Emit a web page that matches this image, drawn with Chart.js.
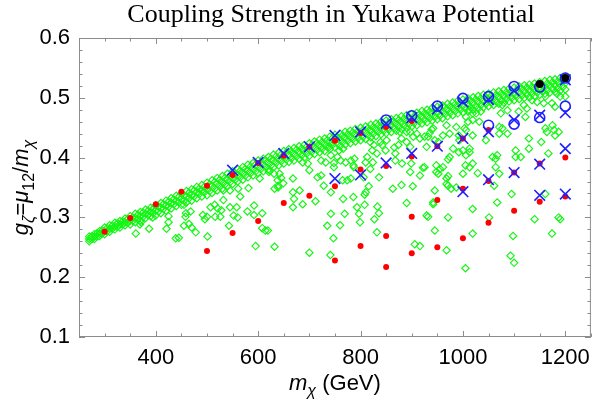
<!DOCTYPE html>
<html>
<head>
<meta charset="utf-8">
<script src="https://cdn.jsdelivr.net/npm/chart.js@4.4.1/dist/chart.umd.min.js"></script>
<style>
  html, body { margin: 0; padding: 0; background: #fff; }
  #wrap { width: 600px; height: 402px; }
</style>
</head>
<body>
<div id="wrap"><canvas id="chart" width="600" height="402"></canvas></div>
<script>
// tick labels
const xTickValues = [400, 600, 800, 1000, 1200];
const yTickValues = [0.1, 0.2, 0.3, 0.4, 0.5, 0.6];

// dense green band along the upper edge: rows
const bandMass = [270,280,290,300,310,320,330,340,350,360,370,380,390,400,410,420,430,440,450,460,470,480,490,500,
  510,520,530,540,550,560,570,580,590,600,610,620,630,640,650,660,670,680,690,700,710,720,730,740,750,760,770,780,790,800,
  810,820,830,840,850,860,870,880,890,900,910,920,930,940,950,960,970,980,990,1000,1010,1020,1030,1040,1050,1060,1070,1080,1090,1100,
  1110,1120,1130,1140,1150,1160,1170,1180,1190,1200];
const bandTop = [.268,.272,.277,.283,.287,.291,.294,.298,.302,.306,.309,.313,.316,.320,.324,.328,.332,.336,.340,
  .344,.347,.351,.354,.358,.362,.366,.369,.373,.377,.381,.384,.388,.391,.395,.398,.401,.405,.408,.411,
  .414,.416,.419,.421,.424,.427,.430,.432,.435,.438,.440,.443,.445,.448,.450,.452,.455,.457,.460,.462,
  .464,.466,.469,.471,.473,.475,.478,.480,.483,.485,.487,.490,.492,.495,.497,.499,.501,.503,.505,.507,
  .509,.511,.513,.515,.517,.519,.521,.522,.524,.526,.528,.530,.531,.533,.535];
const bandMid = [.264,.268,.273,.277,.281,.285,.288,.292,.295,.299,.302,.306,.309,.312,.316,.320,.324,.328,.331,
  .335,.338,.342,.345,.348,.352,.356,.359,.363,.367,.371,.374,.378,.381,.385,.388,.391,.395,.398,.401,
  .404,.406,.409,.411,.414,.417,.420,.422,.425,.428,.430,.433,.435,.438,.440,.442,.445,.447,.450,.452,
  .454,.456,.459,.461,.463,.465,.468,.470,.473,.475,.477,.480,.482,.485,.487,.489,.491,.493,.495,.497,
  .499,.501,.503,.505,.507,.509,.511,.512,.514,.516,.518,.520,.521,.523,.525];
const bandLow = [.260,.264,.269,.272,.276,.280,.283,.287,.288,.292,.295,.299,.302,.303,.307,.311,.315,.319,.321,
  .325,.328,.332,.335,.337,.341,.345,.348,.352,.356,.360,.363,.367,.370,.374,.377,.380,.384,.387,.390,
  .393,.395,.398,.400,.403,.406,.409,.411,.414,.417,.419,.422,.424,.427,.429,.431,.434,.436,.439,.441,
  .443,.445,.448,.450,.452,.454,.457,.459,.462,.464,.466,.469,.471,.474,.476,.478,.480,.482,.484,.486,
  .488,.490,.492,.494,.496,.498,.500,.501,.503,.505,.507,.509,.510,.512,.514];
const bandMassHalf = [275,285,295,305,315,325,335,345,355,365,375,385,395,405,415,425,435,445,455,465,475,485,495,
  505,515,525,535,545,555,565,575,585,595,605,615,625,635,645,655,665,675,685,695,705,715,725,735,745,755,765,775,785,795,
  805,815,825,835,845,855,865,875,885,895,905,915,925,935,945,955,965,975,985,995,1005,1015,1025,1035,1045,1055,1065,1075,
  1085,1095,1105,1115,1125,1135,1145,1155,1165,1175,1185,1195];
const bandHalfUp = [.268,.273,.278,.282,.286,.290,.293,.297,.300,.304,.308,.311,.314,.318,.322,.326,.330,.334,.337,.341,.345,.348,.351,
  .355,.359,.363,.366,.370,.374,.378,.381,.385,.388,.392,.395,.398,.402,.405,.408,.410,.413,.415,.418,.421,.424,.426,.429,.432,.434,.437,.439,.442,.444,
  .446,.449,.451,.454,.456,.458,.460,.463,.465,.467,.469,.472,.474,.477,.479,.481,.484,.486,.489,.491,.493,.495,.497,.499,.501,.503,.505,.507,
  .509,.511,.513,.515,.517,.518,.520,.522,.524,.526,.527,.529];
const bandHalfLow = [.264,.268,.273,.277,.281,.284,.288,.291,.294,.297,.301,.304,.307,.310,.314,.318,.322,.325,.328,.332,.335,.339,.342,
  .344,.348,.352,.355,.359,.363,.367,.370,.374,.377,.381,.384,.387,.391,.394,.397,.399,.402,.404,.407,.410,.413,.415,.418,.421,.423,.426,.428,.431,.433,
  .435,.438,.440,.443,.445,.447,.449,.452,.454,.456,.458,.461,.463,.466,.468,.470,.473,.475,.478,.480,.482,.484,.486,.488,.490,.492,.494,.496,
  .498,.500,.502,.504,.506,.507,.509,.511,.513,.515,.516,.518];

// scattered green diamonds below the band
const scatterMass = [361,387,369,421,439,425,425,455,459,394,371,455,468,458,465,470,478,492,496,500,501,507,515,521,528,526,516,
  532,532,545,561,565,545,558,552,560,543,579,592,592,608,608,614,595,632,581,603,621,631,639,638,445,623,639,649,632,642,
  668,681,670,668,687,712,700,619,728,742,723,732,723,739,748,742,755,758,766,781,786,788,774,766,786,810,793,808,797,742,
  769,735,760,747,741,833,836,827,832,816,836,824,832,842,851,866,863,880,890,868,881,899,897,902,916,922,932,890,903,897,
  906,916,942,945,932,939,945,716,668,645,687,697,700,761,771,787,810,813,806,819,765,781,748,819,826,839,849,823,868,874,
  880,890,877,910,916,925,929,942,961,974,987,968,1006,1010,1019,981,1006,1000,1013,974,961,948,897,925,1000,1019,1013,1026,
  1035,1019,1032,1006,1019,1045,1071,1077,1087,1074,1109,1119,1125,1122,1135,1145,1158,1161,1174,1184,1190,1200,1180,1071,
  1077,1087,1161,1164,1180,1187,1153,1129,1013,1103,1103,1129,1167,1067,1058,1013,935,952,992,1003,993,971,948,955,952,968,
  971,977,987,945,942,929,971,1019,1019,968,1005,992,1005,1029,1064,1064,1061,1067,1051,1113,1095,1098,1093,1100,1161,1140,
  1175,1178,1174,1187,1071,971,968,799,808,1190];
const scatterG = [.273,.281,.288,.281,.265,.292,.302,.286,.307,.300,.292,.321,.310,.301,.289,.283,.275,.304,.297,.301,.268,.317,.321,.315,.312,.301,.301,
  .329,.345,.345,.348,.335,.317,.317,.303,.300,.286,.310,.320,.304,.307,.282,.278,.252,.251,.349,.365,.376,.373,.350,.362,.266,.379,.353,.357,.348,.373,
  .365,.345,.331,.317,.322,.327,.241,.278,.353,.342,.370,.392,.395,.418,.384,.404,.401,.412,.415,.395,.387,.398,.362,.331,.334,.342,.317,.321,.306,.306,
  .306,.286,.287,.265,.237,.318,.307,.297,.275,.352,.367,.392,.407,.421,.429,.417,.348,.354,.324,.395,.390,.390,.376,.352,.370,.383,.301,.426,.435,.443,
  .255,.252,.322,.278,.435,.447,.429,.367,.342,.366,.392,.390,.379,.395,.392,.384,.392,.401,.367,.381,.362,.365,.391,.426,.421,.426,.412,.412,.407,.421,
  .432,.443,.443,.440,.432,.435,.418,.449,.437,.440,.451,.454,.468,.460,.474,.415,.404,.412,.409,.401,.384,.376,.418,.384,.373,.390,.479,.474,
  .477,.463,.460,.446,.437,.429,.451,.488,.479,.474,.477,.488,.482,.468,.496,.493,.491,.502,.491,.507,.502,.502,.485,.440,
  .449,.440,.449,.443,.437,.443,.426,.432,.415,.412,.401,.415,.407,.404,.401,.384,.441,.426,.437,.449,.429,.397,.387,.381,.373,.365,
  .353,.348,.350,.345,.325,.303,.300,.314,.273,.245,.215,.409,.387,.374,.384,.398,.353,.325,.300,.401,.339,.269,.236,.224,.339,.297,
  .454,.446,.273,.300,.373,.369,.356,.292,.338,.297];

// red dots
const redMass = [300,350,400,450,500,500,550,550,600,600,650,650,700,700,750,750,750,800,800,800,850,850,850,850,
  900,900,900,900,950,950,950,1000,1000,1000,1050,1050,1050,1100,1100,1150,1150,1200,1200];
const redG = [.276,.299,.322,.343,.353,.244,.371,.274,.391,.294,.403,.324,.418,.336,.428,.352,.228,.441,.380,.252,.451,.386,.269,.217,
  .461,.402,.301,.240,.419,.329,.250,.432,.348,.265,.446,.361,.291,.375,.311,.390,.326,.400,.335];

// blue crosses
const crossMass = [550,600,650,700,750,750,800,800,850,850,900,900,950,950,1000,1000,1000,1050,1050,1050,
  1100,1100,1100,1150,1150,1150,1200,1200,1200,1200];
const crossG = [.379,.392,.407,.418,.437,.365,.443,.371,.457,.391,.467,.407,.481,.419,.493,.432,.343,.497,.443,.363,
  .512,.463,.375,.471,.389,.337,.530,.475,.415,.339];

// blue circles
const circleMass = [850,900,950,1000,1050,1050,1100,1100,1150,1150,1200,1200];
const circleG = [.463,.470,.486,.499,.502,.454,.519,.456,.518,.467,.533,.486];

// black dots
const blackMass = [1150,1200];
const blackG = [.523,.533];

const pts = (ms, gs) => ms.map((m, i) => ({ x: m, y: gs[i] }));

const sans = '"Liberation Sans", Arial, sans-serif';

function drawRich(ctx, parts, cx, baseY, size) {
  const fontOf = p => `${p.it ? 'italic ' : ''}${p.sub ? Math.round(size * 0.72) : size}px ${sans}`;
  let w = 0;
  parts.forEach(p => { ctx.font = fontOf(p); w += ctx.measureText(p.t).width; });
  let x = cx - w / 2;
  ctx.textAlign = 'left';
  ctx.textBaseline = 'alphabetic';
  parts.forEach(p => {
    ctx.font = fontOf(p);
    ctx.fillText(p.t, x, baseY + (p.sub ? size * 0.28 : 0));
    x += ctx.measureText(p.t).width;
  });
}

const framePlugin = {
  id: 'frame',
  afterDraw(chart) {
    const { ctx, chartArea: a, scales: { x, y } } = chart;
    ctx.save();
    ctx.strokeStyle = '#8c8c8c';
    ctx.lineWidth = 1;
    ctx.strokeRect(a.left + 0.5, a.top + 0.5, a.right - a.left - 1, a.bottom - a.top - 1);
    ctx.beginPath();
    for (let v = 250; v <= 1250; v += 50) {
      const px = Math.round(x.getPixelForValue(v)) + 0.5;
      const len = xTickValues.includes(v) ? 6 : 3.5;
      ctx.moveTo(px, a.bottom); ctx.lineTo(px, a.bottom - len);
      ctx.moveTo(px, a.top); ctx.lineTo(px, a.top + len);
    }
    for (let i = 0; i <= 25; i++) {
      const v = 0.1 + i * 0.02;
      const py = Math.round(y.getPixelForValue(v)) + 0.5;
      const len = i % 5 === 0 ? 6 : 3.5;
      ctx.moveTo(a.left, py); ctx.lineTo(a.left + len, py);
      ctx.moveTo(a.right, py); ctx.lineTo(a.right - len, py);
    }
    ctx.stroke();

    // title
    ctx.fillStyle = '#000';
    ctx.font = '26px "Liberation Serif", "Times New Roman", serif';
    ctx.textAlign = 'center';
    ctx.textBaseline = 'alphabetic';
    ctx.fillText('Coupling Strength in Yukawa Potential', (a.left + a.right) / 2 - 4, 22);

    // x axis title
    drawRich(ctx, [
      { t: 'm', it: true }, { t: 'χ', it: true, sub: true }, { t: ' (GeV)' }
    ], (a.left + a.right) / 2, 390, 22);

    // y axis title
    ctx.translate(0, (a.top + a.bottom) / 2);
    ctx.rotate(-Math.PI / 2);
    drawRich(ctx, [
      { t: 'g', it: true }, { t: 'ζ', it: true, sub: true }, { t: '=' },
      { t: 'μ', it: true }, { t: '12', sub: true }, { t: '/' },
      { t: 'm', it: true }, { t: 'χ', it: true, sub: true }
    ], 0, 28, 22);
    ctx.restore();
  }
};

const greenData = pts(bandMass, bandTop).concat(
  pts(bandMassHalf, bandHalfUp), pts(bandMass, bandMid),
  pts(bandMassHalf, bandHalfLow), pts(bandMass, bandLow),
  pts(scatterMass, scatterG));

new Chart(document.getElementById('chart'), {
  type: 'scatter',
  data: {
    datasets: [
      { data: pts(blackMass, blackG), order: 1, pointStyle: 'circle', pointRadius: 4,
        backgroundColor: '#000', borderColor: '#000', borderWidth: 0 },
      { data: pts(circleMass, circleG), order: 2, pointStyle: 'circle', pointRadius: 5,
        backgroundColor: 'rgba(0,0,0,0)', borderColor: '#1f1fff', borderWidth: 1.6 },
      { data: pts(crossMass, crossG), order: 3, pointStyle: 'crossRot', pointRadius: 7.5,
        borderColor: '#1f1fff', borderWidth: 1.6 },
      { data: pts(redMass, redG), order: 4, pointStyle: 'circle', pointRadius: 3,
        backgroundColor: '#ff0000', borderColor: '#ff0000', borderWidth: 0 },
      { data: greenData, order: 5, pointStyle: 'rectRot', pointRadius: 3.7,
        backgroundColor: 'rgba(0,0,0,0)', borderColor: '#14f514', borderWidth: 1.15 }
    ]
  },
  options: {
    responsive: false,
    animation: false,
    devicePixelRatio: 1,
    layout: { padding: { top: 38, right: 4, left: 0, bottom: 0 } },
    plugins: { legend: { display: false }, tooltip: { enabled: false }, title: { display: false } },
    scales: {
      x: {
        type: 'linear', min: 250, max: 1250,
        grid: { display: false, drawTicks: false },
        border: { display: false },
        ticks: { color: '#000', font: { family: sans, size: 22 }, padding: 8, maxRotation: 0,
          callback: v => String(v) },
        afterBuildTicks: s => { s.ticks = xTickValues.map(v => ({ value: v })); },
        afterFit: s => { s.height = 65; }
      },
      y: {
        type: 'linear', min: 0.1, max: 0.6,
        grid: { display: false, drawTicks: false },
        border: { display: false },
        ticks: { color: '#000', font: { family: sans, size: 22 }, padding: 9,
          callback: v => v.toFixed(1) },
        afterBuildTicks: s => { s.ticks = yTickValues.map(v => ({ value: v })); },
        afterFit: s => { s.width = 79; }
      }
    }
  },
  plugins: [framePlugin]
});
</script>
</body>
</html>
